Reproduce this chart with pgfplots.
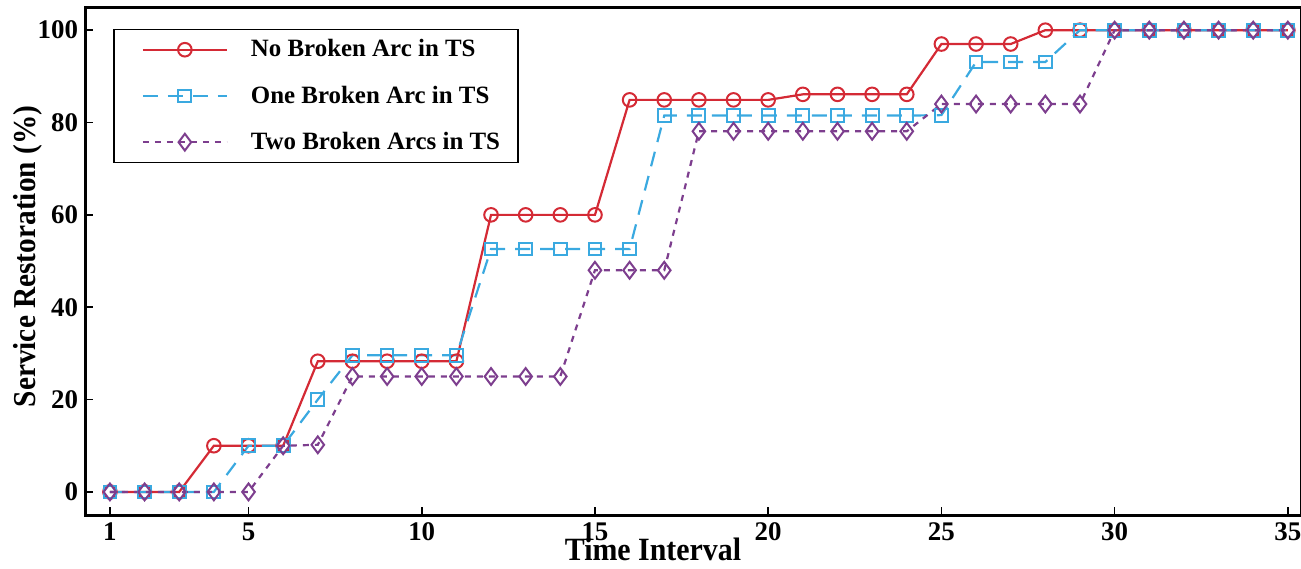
\documentclass[border=0pt]{standalone}
\usepackage{fontspec}
\setmainfont{Liberation Serif}
\newfontfamily\condfont[FakeStretch=0.92]{Liberation Serif}
\usepackage{pgfplots}
\pgfplotsset{compat=1.18}

\definecolor{cRed}{HTML}{D42A35}
\definecolor{cBlue}{HTML}{3AA9E0}
\definecolor{cPurple}{HTML}{7D3E8E}

\pgfplotstableread{
x   none  one   two
1   0     0     0
2   0     0     0
3   0     0     0
4   10    0     0
5   10    10    0
6   10    10    10
7   28.3  20    10.2
8   28.3  29.6  25
9   28.3  29.6  25
10  28.3  29.6  25
11  28.3  29.6  25
12  60    52.6  25
13  60    52.6  25
14  60    52.6  25
15  60    52.6  48
16  84.9  52.6  48
17  84.9  81.5  48
18  84.9  81.5  78.1
19  84.9  81.5  78.1
20  84.9  81.5  78.1
21  86.1  81.5  78.1
22  86.1  81.5  78.1
23  86.1  81.5  78.1
24  86.1  81.5  78.1
25  97    81.6  84
26  97    93.1  84
27  97    93.1  84
28  100   93.1  84
29  100   100   84
30  100   100   100
31  100   100   100
32  100   100   100
33  100   100   100
34  100   100   100
35  100   100   100
}\datatable

\begin{document}
\begin{tikzpicture}
\begin{axis}[
    name=ax,
    scale only axis,
    width=608bp, height=253.5bp,
    xmin=0.28, xmax=35.38,
    ymin=-5, ymax=104.8,
    xtick={1,5,10,15,20,25,30,35},
    ytick={0,20,40,60,80,100},
    xtick pos=bottom, ytick pos=left,
    tick align=inside,
    major tick length=4bp,
    axis line style={line width=1.5bp},
    tick style={line width=0.8bp, black},
    /pgf/number format/assume math mode=true,
    ticklabel style={font=\fontsize{13.5}{15}\selectfont\bfseries},
    xticklabel style={inner sep=0.5bp, yshift=-3bp},
    xlabel={Time Interval},
    ylabel={Service Restoration (\%)},
    xlabel style={font=\fontsize{16.3}{18}\selectfont\condfont\bfseries,
        inner sep=0bp, yshift=1.8bp, xshift=-20bp},
    ylabel style={font=\fontsize{16}{18}\selectfont\condfont\bfseries,
        yshift=-9bp, xshift=2.5bp},
    legend style={
        at={(0.023,0.959)}, anchor=north west,
        draw=black, line width=0.8bp,
        font=\fontsize{12.5}{14}\selectfont\bfseries,
        inner xsep=7bp, inner ysep=3bp,
        row sep=9bp,
    },
    legend cell align=left,
    legend image code/.code={
        \path (0bp,0bp) (58.5bp,0bp);
        \draw[mark repeat=2, mark phase=2, #1]
            plot coordinates {(7bp,0bp) (28bp,0bp) (49bp,0bp)};
    },
]
\addplot[color=cRed, line width=1.1bp, mark=o, mark size=3.4bp,
    mark options={solid, line width=1bp}]
    table[x=x, y=none] {\datatable};
\addlegendentry{No Broken Arc in TS}
\addplot[color=cBlue, line width=1.1bp, dash pattern=on 7.5bp off 5bp,
    mark=square, mark size=3.2bp, mark options={solid, line width=1bp}]
    table[x=x, y=one] {\datatable};
\addlegendentry{One Broken Arc in TS}
\addplot[color=cPurple, line width=1.1bp, dash pattern=on 3bp off 3bp,
    mark=diamond, mark size=4.2bp, mark options={solid, line width=1bp}]
    table[x=x, y=two] {\datatable};
\addlegendentry{Two Broken Arcs in TS}
\end{axis}
\pgfresetboundingbox
\useasboundingbox ([xshift=-42.5bp,yshift=-27bp]ax.south west)
    rectangle ([yshift=4bp]ax.north east);
\end{tikzpicture}
\end{document}
